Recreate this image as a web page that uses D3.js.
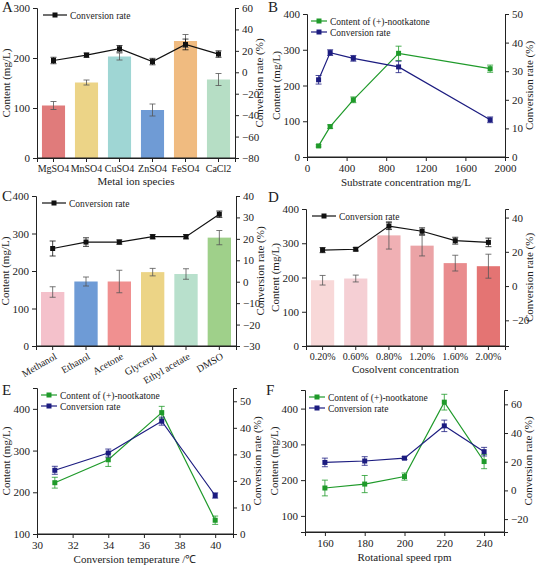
<!DOCTYPE html>
<html><head><meta charset="utf-8">
<script src="https://cdn.jsdelivr.net/npm/d3@7"></script>
<style>body{margin:0;background:#fff}text{font-family:"Liberation Serif",serif;fill:#222}</style>
</head><body><svg id="c" width="536" height="568"></svg>
<script>
// A: metal ions
var metalCats = ["MgSO4","MnSO4","CuSO4","ZnSO4","FeSO4","CaCl2"];
var metalContent = [105,151,203,96,234,157], metalContentErr = [8,5,7,12,13,12];
var metalConv = [11,16,22,10,26,17], metalConvErr = [3,2,3,3,5,3];
var metalColors = ["#e07b7b","#ecd487","#9fd6d4","#6f9bd5","#f0bb80","#b6dec5"];
// B: substrate
var subX = [117,234,468,925,1850];
var subContent = [31,85,160,290,247], subContentErr = [3,5,8,20,10];
var subConv = [27,36.5,34.5,31.5,13], subConvErr = [1.5,1,1,2,1];
// C: solvents
var solvCats = ["Methanol","Ethanol","Acetone","Glycerol","Ethyl acetate","DMSO"];
var solvContent = [144,172,172,197,192,289], solvContentErr = [14,12,30,10,14,19];
var solvConv = [15.5,18.5,18.5,21,21,31.5], solvConvErr = [3.5,2,1,1,1,1.5];
var solvColors = ["#f4c1cb","#6e9bd6","#f09090","#ecd486","#b8e0cc","#9fd08a"];
// D: cosolvent
var cosCats = ["0.20%","0.60%","0.80%","1.20%","1.60%","2.00%"];
var cosContent = [192,197,323,293,242,233], cosContentErr = [14,10,40,30,23,35];
var cosConv = [21,21.5,35,32,26.5,25.5], cosConvErr = [1.5,1,2,2,2,2.5];
var cosColors = ["#f8d8d8","#f5cfd4","#f0b0b4","#eba3a6","#e98c8e","#e47473"];
// E: temperature
var tempX = [31,34,37,40];
var tempContent = [223,278,391,133], tempContentErr = [13,16,15,10];
var tempConv = [24,30.5,42.5,14.5], tempConvErr = [1.5,1.5,1.5,1];
// F: speed
var rpmX = [160,180,200,220,240];
var rpmContent = [178,189,210,418,252], rpmContentErr = [22,24,10,22,20];
var rpmConv = [19.5,20.5,22.5,45,27], rpmConvErr = [3,3,1,4,3];

var svg = d3.select("#c");
var green = "#1f9a2a", navy = "#1c1c80";

function errBars(g, pts, col){
  pts.forEach(function(p){
    g.append("line").attr("x1",p[0]).attr("x2",p[0]).attr("y1",p[1]).attr("y2",p[2]).attr("stroke",col).attr("stroke-width",0.8);
    [p[1],p[2]].forEach(function(y){
      g.append("line").attr("x1",p[0]-3).attr("x2",p[0]+3).attr("y1",y).attr("y2",y).attr("stroke",col).attr("stroke-width",0.8);
    });
  });
}

function styleAxis(a, size){
  a.selectAll("text").style("font-size",size+"px").style("font-family","Liberation Serif").attr("fill","#222");
}

function panel(o){
  var g = svg.append("g");
  var x0=o.box[0], x1=o.box[1], y0=o.box[2], y1=o.box[3];
  var yL = d3.scaleLinear().domain(o.yl).range([y1,y0]);
  var yR = d3.scaleLinear().domain(o.yr).range([y1,y0]);
  var x;
  if(o.cats){
    x = d3.scaleBand().domain(o.cats).range([x0,x1]).paddingInner(0.3).paddingOuter(0.15);
    var cx = function(i){return x(o.cats[i])+x.bandwidth()/2;};
    g.selectAll(".b").data(o.bars).enter().append("rect")
      .attr("x",function(d,i){return x(o.cats[i]);}).attr("width",x.bandwidth())
      .attr("y",function(d){return yL(d);}).attr("height",function(d){return y1-yL(d);})
      .attr("fill",function(d,i){return o.colors[i];});
    errBars(g, o.bars.map(function(d,i){return [cx(i),yL(d-o.barsErr[i]),yL(d+o.barsErr[i])];}), "#555");
    var pts = o.conv.map(function(d,i){return [cx(i),yR(d)];});
    g.append("path").attr("d",d3.line()(pts)).attr("fill","none").attr("stroke","#111").attr("stroke-width",1.2);
    errBars(g, o.conv.map(function(d,i){return [cx(i),yR(d-o.convErr[i]),yR(d+o.convErr[i])];}), "#111");
    g.selectAll(".p").data(pts).enter().append("rect").attr("x",function(p){return p[0]-2.5;}).attr("y",function(p){return p[1]-2.5;}).attr("width",5).attr("height",5).attr("fill","#111");
    var xa = g.append("g").attr("transform","translate(0,"+y1+")").call(d3.axisBottom(x).tickSize(4));
    styleAxis(xa, 10);
    if(o.rot) xa.selectAll("text").attr("transform","rotate(-30)").style("text-anchor","end").attr("dx","-0.2em").attr("dy","0.6em");
    // legend
    g.append("line").attr("x1",x0+6).attr("x2",x0+30).attr("y1",y0+7).attr("y2",y0+7).attr("stroke","#111").attr("stroke-width",1.2);
    g.append("rect").attr("x",x0+15.5).attr("y",y0+4.5).attr("width",5).attr("height",5).attr("fill","#111");
    g.append("text").attr("x",x0+33).attr("y",y0+10.5).style("font-size","9.5px").text("Conversion rate");
  } else {
    x = d3.scaleLinear().domain(o.xd).range([x0,x1]);
    var series = [[o.content,o.contentErr,yL,green],[o.conv,o.convErr,yR,navy]];
    series.forEach(function(s){
      var pts = o.xs.map(function(v,i){return [x(v),s[2](s[0][i])];});
      g.append("path").attr("d",d3.line()(pts)).attr("fill","none").attr("stroke",s[3]).attr("stroke-width",1.2);
      errBars(g, o.xs.map(function(v,i){return [x(v),s[2](s[0][i]-s[1][i]),s[2](s[0][i]+s[1][i])];}), s[3]);
      g.selectAll(null).data(pts).enter().append("rect").attr("x",function(p){return p[0]-2.5;}).attr("y",function(p){return p[1]-2.5;}).attr("width",5).attr("height",5).attr("fill",s[3]);
    });
    var xa = g.append("g").attr("transform","translate(0,"+y1+")").call(d3.axisBottom(x).tickValues(o.xt).tickFormat(d3.format("d")).tickSize(4));
    styleAxis(xa, 11);
    [["Content of (+)-nootkatone",green],["Conversion rate",navy]].forEach(function(l,i){
      var ly = y0+7+i*11;
      g.append("line").attr("x1",x0+4).attr("x2",x0+20).attr("y1",ly).attr("y2",ly).attr("stroke",l[1]).attr("stroke-width",1.2);
      g.append("rect").attr("x",x0+9.5).attr("y",ly-2.5).attr("width",5).attr("height",5).attr("fill",l[1]);
      g.append("text").attr("x",x0+23).attr("y",ly+3.5).style("font-size","9.5px").text(l[0]);
    });
  }
  g.append("line").attr("x1",x0).attr("x2",x1).attr("y1",y1).attr("y2",y1).attr("stroke","#222");
  var la = g.append("g").attr("transform","translate("+x0+",0)").call(d3.axisLeft(yL).tickValues(o.ylt).tickSize(4));
  var ra = g.append("g").attr("transform","translate("+x1+",0)").call(d3.axisRight(yR).tickValues(o.yrt).tickSize(4));
  styleAxis(la, 11); styleAxis(ra, 11);
  g.selectAll(".domain,.tick line").attr("stroke","#222");
  g.append("text").attr("transform","translate("+(x0-27)+","+((y0+y1)/2)+") rotate(-90)").attr("text-anchor","middle").style("font-size","11px").text("Content (mg/L)");
  g.append("text").attr("transform","translate("+(x1+28)+","+((y0+y1)/2)+") rotate(-90)").attr("text-anchor","middle").style("font-size","11px").text("Conversion rate (%)");
  g.append("text").attr("x",(x0+x1)/2).attr("y",o.xty).attr("text-anchor","middle").style("font-size","11px").text(o.xtitle);
  g.append("text").attr("x",o.lp[0]).attr("y",o.lp[1]).style("font-size","15px").text(o.letter);
}

panel({letter:"A",lp:[2,12],box:[37,235,8,158],cats:metalCats,bars:metalContent,barsErr:metalContentErr,colors:metalColors,
  conv:metalConv,convErr:metalConvErr,yl:[0,300],ylt:[0,100,200,300],yr:[-80,60],yrt:d3.range(-80,61,20),xtitle:"Metal ion species",xty:185});
panel({letter:"B",lp:[268,12],box:[307,505,14,157],xs:subX,content:subContent,contentErr:subContentErr,conv:subConv,convErr:subConvErr,
  xd:[0,2000],xt:d3.range(0,2001,400),yl:[0,400],ylt:[0,100,200,300,400],yr:[0,50],yrt:d3.range(0,51,10),xtitle:"Substrate concentration mg/L",xty:186});
panel({letter:"C",lp:[2,201],box:[36,236,196,346],cats:solvCats,bars:solvContent,barsErr:solvContentErr,colors:solvColors,rot:true,
  conv:solvConv,convErr:solvConvErr,yl:[0,400],ylt:[0,100,200,300,400],yr:[-30,40],yrt:d3.range(-30,41,10),xtitle:"",xty:380});
panel({letter:"D",lp:[268,202],box:[306,505,209,346],cats:cosCats,bars:cosContent,barsErr:cosContentErr,colors:cosColors,
  conv:cosConv,convErr:cosConvErr,yl:[0,400],ylt:[0,100,200,300,400],yr:[-35,45],yrt:[-20,0,20,40],xtitle:"Cosolvent concentration",xty:373});
panel({letter:"E",lp:[2,395],box:[37,233,388,534],xs:tempX,content:tempContent,contentErr:tempContentErr,conv:tempConv,convErr:tempConvErr,
  xd:[30,41],xt:d3.range(30,41,2),yl:[100,450],ylt:[100,200,300,400],yr:[0,55],yrt:d3.range(0,51,10),xtitle:"Conversion temperature /\u2103",xty:563});
panel({letter:"F",lp:[266,395],box:[305,504,390,532],xs:rpmX,content:rpmContent,contentErr:rpmContentErr,conv:rpmConv,convErr:rpmConvErr,
  xd:[150,250],xt:d3.range(160,241,20),yl:[55,452],ylt:[100,200,300,400],yr:[-29,70],yrt:[-20,0,20,40,60],xtitle:"Rotational speed  rpm",xty:561});
</script></body></html>
